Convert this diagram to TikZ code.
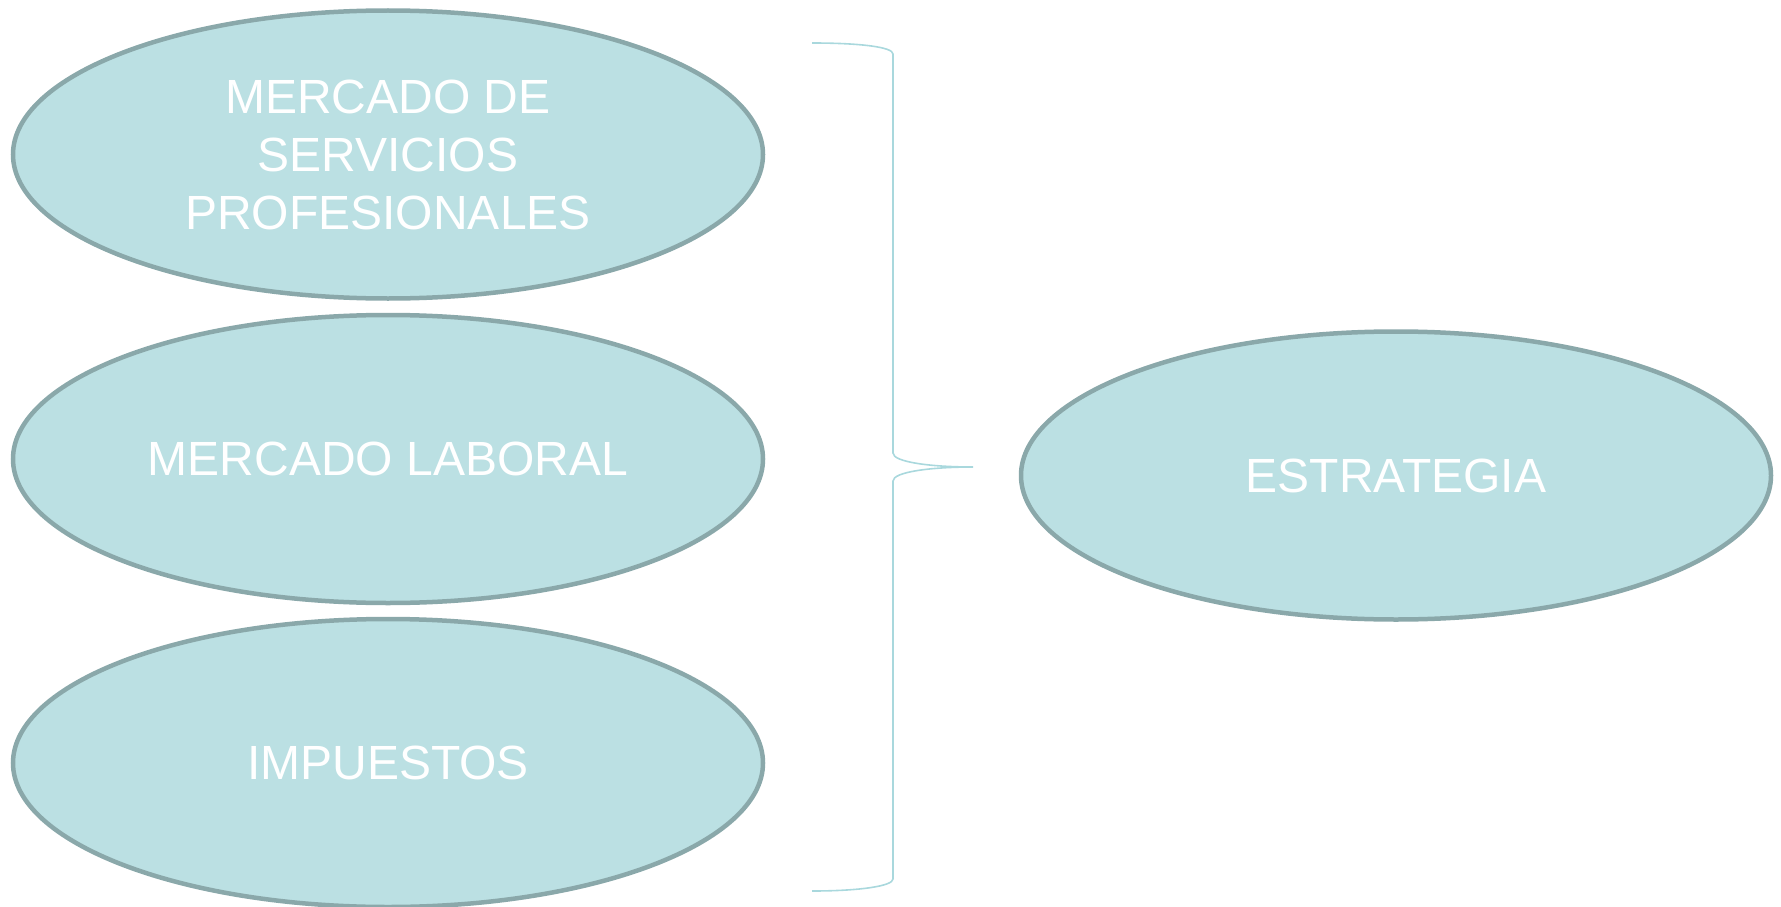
\documentclass[tikz,border=0pt]{standalone}
\usepackage{fontspec}
\setmainfont{Liberation Sans}
\usetikzlibrary{shapes.geometric}
\definecolor{fillc}{HTML}{BBE0E3}
\definecolor{edgec}{HTML}{8AA8AA}
\definecolor{bracec}{HTML}{A9D8DD}
\begin{document}
\begin{tikzpicture}[x=1pt,y=-1pt,
  oval/.style={ellipse, draw=edgec, line width=4.5pt, fill=fillc, inner sep=0pt,
    minimum width=750pt, minimum height=288pt, text=white, align=center,
    font=\fontsize{48pt}{58pt}\selectfont},
  bracel/.style={draw=bracec, line width=1.6pt}]
\useasboundingbox (0,0) rectangle (1781,907);
\node[oval] (mercserv) at (388,154.5) {\raisebox{-3pt}{}MERCADO DE\\SERVICIOS\\PROFESIONALES};
\node[oval] (laboral) at (388,459) {MERCADO LABORAL};
\node[oval] (impuestos) at (388,763) {IMPUESTOS};
\node[oval] (estrategia) at (1396,475.5) {ESTRATEGIA};
\coordinate (btop) at (812,43);
\coordinate (btip) at (973,467);
\coordinate (bbot) at (812,891);
\draw[bracel] (btop) .. controls (860,43) and (893,47) .. (893,54)
  -- (893,453) .. controls (893,462) and (930,467) .. (btip)
  .. controls (930,467) and (893,472) .. (893,481)
  -- (893,879) .. controls (893,886) and (860,891) .. (bbot);
\end{tikzpicture}
\end{document}
